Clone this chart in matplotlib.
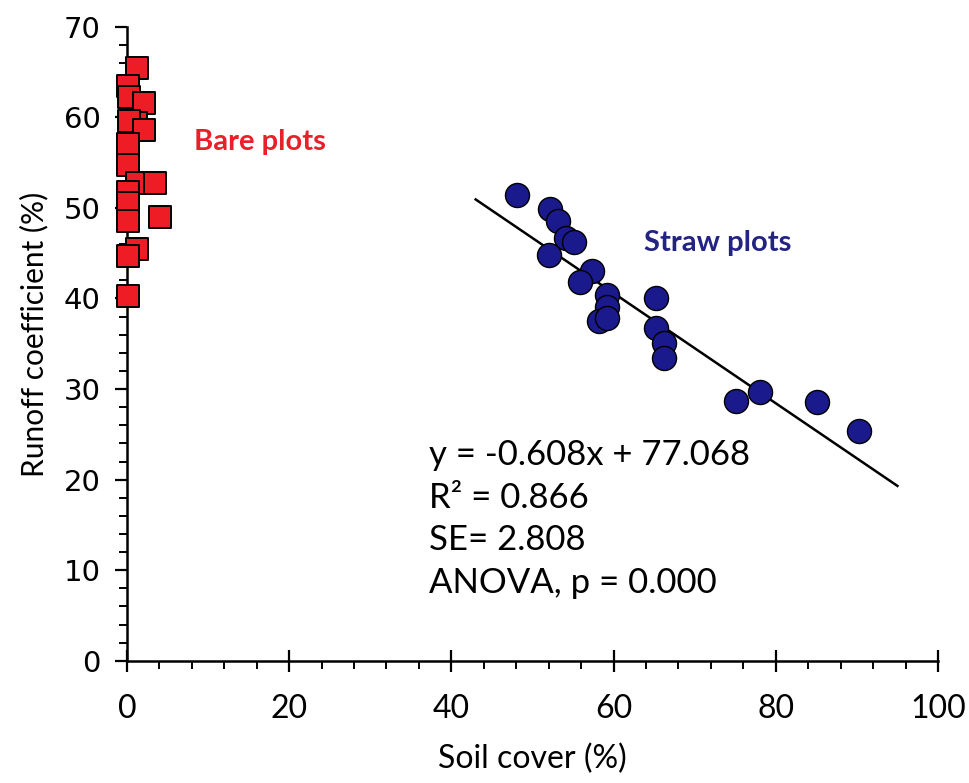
import numpy as np
import matplotlib.pyplot as plt
from matplotlib.ticker import MultipleLocator

# bare plots (squares)
bare_x = [1.2, 0.1, 0.2, 2.1, 1.1, 0.2, 2.1, 0.1, 0.1, 1.2, 3.5, 0.1, 0.1, 0.1, 4.1, 1.2, 0.1, 0.1]
bare_y = [65.4, 63.5, 62.2, 61.6, 59.4, 59.6, 58.6, 57.1, 54.7, 52.7, 52.7, 51.8, 50.5, 48.5, 49.0, 45.5, 44.7, 40.3]

# straw plots (circles)
straw_x = [48.1, 52.2, 53.2, 54.1, 55.1, 52.0, 57.4, 55.9, 59.2, 59.2, 58.2, 59.2,
           65.2, 65.2, 66.2, 66.2, 75.1, 78.1, 85.1, 90.2]
straw_y = [51.4, 49.9, 48.5, 46.7, 46.2, 44.8, 43.0, 41.8, 40.4, 39.1, 37.5, 37.8,
           40.0, 36.7, 35.1, 33.4, 28.7, 29.7, 28.6, 25.4]

# regression for straw plots
slope, intercept = -0.608, 77.068
fit_range = [43, 95]
stats_lines = ["y = -0.608x + 77.068", "R\u00b2 = 0.866", "SE= 2.808", "ANOVA, p = 0.000"]

fig = plt.figure(figsize=(9.69, 7.83), dpi=100)
ax = fig.add_axes([0.131, 0.156, 0.837, 0.81])

ax.scatter(bare_x, bare_y, marker='s', s=260, c='#ee1c24', edgecolors='black', linewidths=1.4, zorder=3, clip_on=False)
ax.scatter(straw_x, straw_y, marker='o', s=300, c='#1a1a8c', edgecolors='black', linewidths=1.0, zorder=3)

fx = np.array(fit_range)
ax.plot(fx, slope * fx + intercept, color='black', lw=1.8, zorder=2)

ax.text(16.4, 57.3, "Bare plots", color='#e8202a', fontsize=21, fontweight='bold',
        family='Lato', ha='center', va='center')
ax.text(72.8, 46.1, "Straw plots", color='#232385', fontsize=21, fontweight='bold',
        family='Lato', ha='center', va='center')

for i, line in enumerate(stats_lines):
    ax.text(37.2, 22.7 - i * 4.7, line, fontsize=25, family='Lato', va='center', ha='left')

ax.set_xlim(0, 100)
ax.set_ylim(0, 70)
ax.spines['top'].set_visible(False)
ax.spines['right'].set_visible(False)
ax.spines['left'].set_linewidth(1.8)
ax.spines['bottom'].set_linewidth(1.8)

ax.xaxis.set_major_locator(MultipleLocator(20))
ax.xaxis.set_minor_locator(MultipleLocator(4))
ax.yaxis.set_major_locator(MultipleLocator(10))
ax.yaxis.set_minor_locator(MultipleLocator(2))
ax.tick_params(axis='x', which='major', direction='inout', length=16, width=1.6, pad=16)
ax.tick_params(axis='x', which='minor', direction='out', length=6, width=1.4)
ax.tick_params(axis='y', which='major', direction='out', length=9, width=1.6, pad=10)
ax.tick_params(axis='y', which='minor', direction='out', length=6, width=1.4)

for lab in ax.get_xticklabels():
    lab.set_family('Lato')
    lab.set_fontsize(23)
for lab in ax.get_yticklabels():
    lab.set_family('DejaVu Sans')
    lab.set_fontsize(21)

ax.set_xlabel("Soil cover (%)", fontsize=23, family='Lato', labelpad=14)
ax.set_ylabel("Runoff coefficient (%)", fontsize=21.5, family='Lato')
ax.yaxis.set_label_coords(-0.097, 0.515)

fig.savefig("out.png", dpi=100)
